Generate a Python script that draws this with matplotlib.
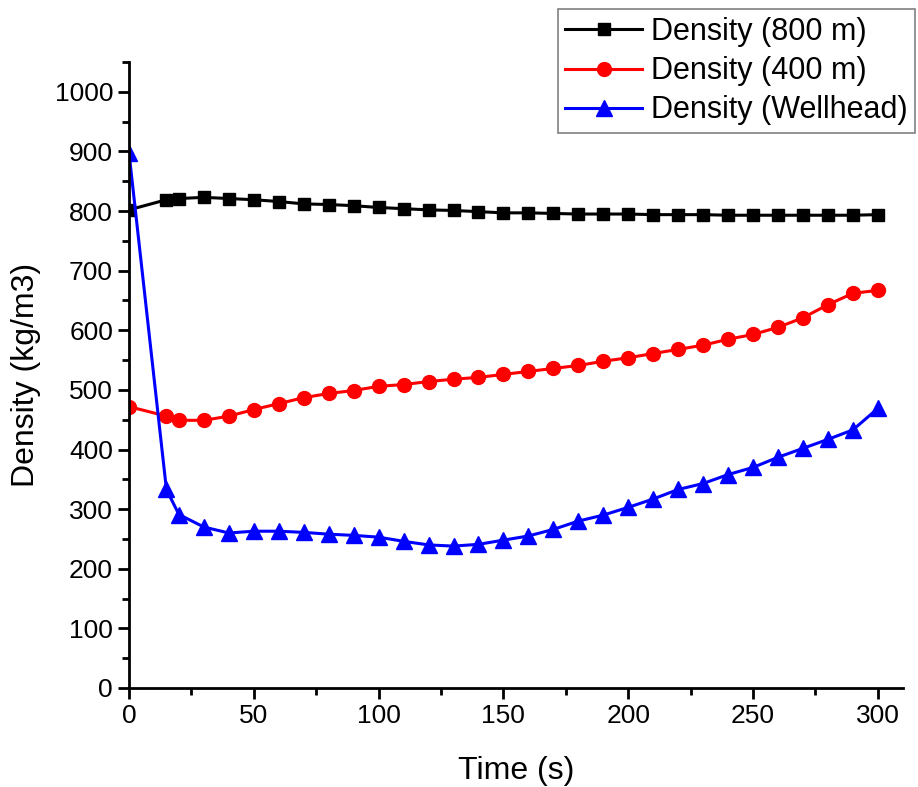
import numpy as np
import matplotlib
matplotlib.use("Agg")
import matplotlib.pyplot as plt
from matplotlib.ticker import MultipleLocator

plt.rcParams["font.family"] = ["Liberation Sans", "DejaVu Sans"]

# time points (s)
time = [0, 15, 20, 30, 40, 50, 60, 70, 80, 90, 100, 110, 120, 130, 140, 150,
        160, 170, 180, 190, 200, 210, 220, 230, 240, 250, 260, 270, 280, 290, 300]

dens_800 = [802, 819, 821, 823, 821, 819, 816, 812, 811, 809, 806, 804, 802, 801,
            799, 797, 797, 796, 795, 795, 795, 794, 794, 794, 793, 793, 793, 793,
            793, 793, 794]
dens_400 = [472, 456, 449, 449, 456, 467, 477, 487, 494, 499, 506, 509, 514, 518,
            521, 526, 531, 536, 541, 548, 554, 561, 568, 575, 585, 593, 605, 621,
            643, 662, 667]
dens_well = [898, 333, 291, 270, 260, 263, 263, 261, 258, 256, 253, 246, 240, 238,
             241, 248, 255, 266, 280, 290, 303, 317, 333, 343, 358, 370, 387, 402,
             417, 433, 469]

fig = plt.figure(figsize=(9.18, 7.87), dpi=100)
ax = fig.add_axes([0.1405, 0.1258, 0.843, 0.7954])

ax.plot(time, dens_800, color="black", marker="s", markersize=8.5, linewidth=2.2,
        label="Density (800 m)")
ax.plot(time, dens_400, color="red", marker="o", markersize=10, linewidth=2.2,
        label="Density (400 m)")
ax.plot(time, dens_well, color="blue", marker="^", markersize=11, linewidth=2.2,
        label="Density (Wellhead)")

ax.set_xlim(0, 310)
ax.set_ylim(0, 1050)
ax.xaxis.set_major_locator(MultipleLocator(50))
ax.xaxis.set_minor_locator(MultipleLocator(25))
ax.yaxis.set_major_locator(MultipleLocator(100))
ax.yaxis.set_minor_locator(MultipleLocator(50))
ax.set_yticks(np.arange(0, 1001, 100))

for s in ["top", "right"]:
    ax.spines[s].set_visible(False)
for s in ["left", "bottom"]:
    ax.spines[s].set_linewidth(2)

ax.tick_params(which="major", direction="out", length=8, width=2, labelsize=19)
ax.tick_params(which="minor", direction="out", length=5, width=2)

ax.set_xlabel("Time (s)", fontsize=23, labelpad=20)
ax.set_ylabel("Density (kg/m3)", fontsize=23, labelpad=10)

leg = ax.legend(loc="upper right", bbox_to_anchor=(0.997, 0.988),
                bbox_transform=fig.transFigure, fontsize=22, fancybox=False,
                edgecolor="gray", framealpha=1, handlelength=2.5,
                borderpad=0.25, labelspacing=0.3, handletextpad=0.3,
                borderaxespad=0)
leg.get_frame().set_linewidth(1.2)

fig.savefig("out.png", dpi=100)
